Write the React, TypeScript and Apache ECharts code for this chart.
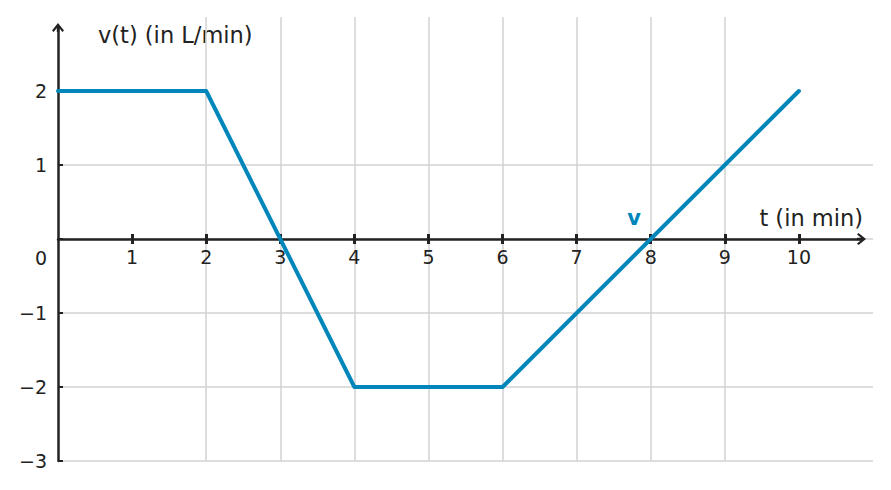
import React, { useEffect, useRef } from "react";
import * as echarts from "echarts";

const tValues = [0, 2, 4, 6, 10];
const vValues = [2, 2, -2, -2, 2];
const xTickValues = [1, 2, 3, 4, 5, 6, 7, 8, 9, 10];
const yTickValues = [-3, -2, -1, 0, 1, 2];
const yLabelValues = [-3, -2, -1, 1, 2];

const BLUE = "#0086ba";
const INK = "#222222";
const GRIDC = "#d2d2d2";
const FONT = "DejaVu Sans";

const ARROW =
  "path://M60,0 L120,75 L104,90 L72,50 L72,90 L48,90 L48,50 L16,90 L0,75 Z";

export default function App() {
  const ref = useRef<HTMLDivElement>(null);
  useEffect(() => {
    if (!ref.current) return;
    const chart = echarts.init(ref.current, null, { renderer: "svg" });
    const data = tValues.map((t, i) => [t, vValues[i]]);
    const fmt = (v: number) => (v < 0 ? "\u2212" + Math.abs(v) : String(v));
    chart.setOption({
      animation: false,
      backgroundColor: "#ffffff",
      grid: [
        { left: 58, right: 18, top: 17, bottom: 29 },
        { left: 58, right: 29.5, top: 27.5, bottom: 29 },
      ],
      xAxis: [
        {
          type: "value",
          gridIndex: 0,
          min: 0,
          max: 11,
          interval: 1,
          position: "bottom",
          offset: -222,
          axisLine: { show: false, onZero: false },
          axisTick: {
            show: true,
            inside: true,
            length: 5,
            customValues: xTickValues,
            lineStyle: { color: INK, width: 3 },
          },
          axisLabel: {
            show: true,
            customValues: xTickValues,
            margin: 8,
            color: INK,
            fontFamily: FONT,
            fontSize: 19,
          },
          splitLine: {
            show: true,
            showMinLine: false,
            showMaxLine: false,
            lineStyle: { color: GRIDC, width: 1.5 },
          },
        },
        {
          type: "value",
          gridIndex: 1,
          min: 0,
          max: (861.5 - 58) / (815 / 11),
          axisLine: {
            show: true,
            onZero: true,
            symbol: ["none", ARROW],
            symbolSize: [13, 9],
            lineStyle: { color: INK, width: 2.5 },
          },
          axisTick: {
            show: true,
            inside: false,
            length: 5,
            customValues: xTickValues,
            lineStyle: { color: INK, width: 3 },
          },
          axisLabel: { show: false },
          splitLine: { show: false },
        },
      ],
      yAxis: [
        {
          type: "value",
          gridIndex: 0,
          min: -3,
          max: 3,
          interval: 1,
          position: "left",
          axisLine: { show: false, onZero: false },
          axisTick: {
            show: true,
            inside: true,
            length: 5,
            customValues: yTickValues,
            lineStyle: { color: INK, width: 2 },
          },
          axisLabel: {
            show: true,
            customValues: yLabelValues,
            formatter: fmt,
            margin: 11,
            color: INK,
            fontFamily: FONT,
            fontSize: 19,
          },
          splitLine: {
            show: true,
            showMinLine: true,
            showMaxLine: false,
            lineStyle: { color: GRIDC, width: 1.5 },
          },
        },
        {
          type: "value",
          gridIndex: 1,
          min: -3,
          max: (239 - 27.5) / 74,
          axisLine: {
            show: true,
            onZero: true,
            symbol: ["none", ARROW],
            symbolSize: [13, 9],
            lineStyle: { color: INK, width: 2.5 },
          },
          axisTick: { show: false },
          axisLabel: { show: false },
          splitLine: { show: false },
        },
      ],
      graphic: [
        {
          type: "text",
          x: 41,
          y: 258,
          style: {
            text: "0",
            fill: INK,
            font: `19px "${FONT}"`,
            textAlign: "center",
            textVerticalAlign: "middle",
          },
        },
        {
          type: "text",
          x: 98,
          y: 35,
          style: {
            text: "v(t) (in L/min)",
            fill: INK,
            font: `22.5px "${FONT}"`,
            textAlign: "left",
            textVerticalAlign: "middle",
          },
        },
        {
          type: "text",
          x: 863,
          y: 218,
          style: {
            text: "t (in min)",
            fill: INK,
            font: `22.5px "${FONT}"`,
            textAlign: "right",
            textVerticalAlign: "middle",
          },
        },
        {
          type: "text",
          x: 634,
          y: 218,
          style: {
            text: "v",
            fill: BLUE,
            font: `bold 21px "${FONT}"`,
            textAlign: "center",
            textVerticalAlign: "middle",
          },
        },
      ],
      series: [
        {
          type: "line",
          xAxisIndex: 0,
          yAxisIndex: 0,
          data,
          showSymbol: false,
          symbol: "none",
          lineStyle: { color: BLUE, width: 4, join: "round", cap: "round" },
          z: 5,
        },
      ],
    });
    return () => chart.dispose();
  }, []);
  return (
    <div
      ref={ref}
      style={{ position: "absolute", left: 0, top: 0, width: 891, height: 490 }}
    />
  );
}
